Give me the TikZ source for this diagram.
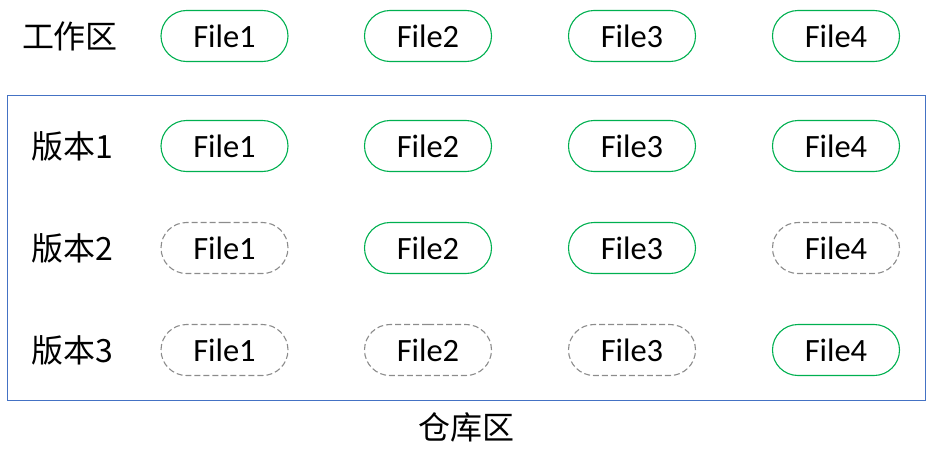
\documentclass[tikz,border=0pt]{standalone}
\usepackage{fontspec}
\setmainfont{Carlito}
\newfontfamily\cjk{Noto Sans CJK SC}
\usetikzlibrary{shapes.misc}
\definecolor{pillgreen}{HTML}{00B050}
\definecolor{dashgrey}{HTML}{8C8C8C}
\definecolor{boxblue}{HTML}{4472C4}
\begin{document}
\begin{tikzpicture}[x=1pt,y=-1pt,
  pill/.style={rounded rectangle, minimum width=127pt, minimum height=51pt, inner sep=0pt, font=\fontsize{32.5}{38}\selectfont},
  solidpill/.style={pill, draw=pillgreen, line width=1.1pt},
  ghostpill/.style={pill, draw=dashgrey, line width=1.1pt, dash pattern=on 6pt off 3pt},
  rowlabel/.style={font=\fontsize{32}{38}\selectfont\cjk, inner sep=0pt}]
\useasboundingbox (0,0) rectangle (935,455);
\draw[boxblue, line width=1.3pt] (7.5,95.5) rectangle (925.5,400.5);
% labels
\node[rowlabel] (lw) at (70,36) {工作区};
\node[rowlabel] (l1) at (72,146) {版本1};
\node[rowlabel] (l2) at (72,248) {版本2};
\node[rowlabel] (l3) at (72,350) {版本3};
\node[rowlabel] (lr) at (466,427) {仓库区};
% working area
\node[solidpill] (w1) at (224.5,36) {File1};
\node[solidpill] (w2) at (428,36) {File2};
\node[solidpill] (w3) at (632,36) {File3};
\node[solidpill] (w4) at (836,36) {File4};
% version 1
\node[solidpill] (a1) at (224.5,146) {File1};
\node[solidpill] (a2) at (428,146) {File2};
\node[solidpill] (a3) at (632,146) {File3};
\node[solidpill] (a4) at (836,146) {File4};
% version 2
\node[ghostpill] (b1) at (224.5,248) {File1};
\node[solidpill] (b2) at (428,248) {File2};
\node[solidpill] (b3) at (632,248) {File3};
\node[ghostpill] (b4) at (836,248) {File4};
% version 3
\node[ghostpill] (c1) at (224.5,350) {File1};
\node[ghostpill] (c2) at (428,350) {File2};
\node[ghostpill] (c3) at (632,350) {File3};
\node[solidpill] (c4) at (836,350) {File4};
\end{tikzpicture}
\end{document}
